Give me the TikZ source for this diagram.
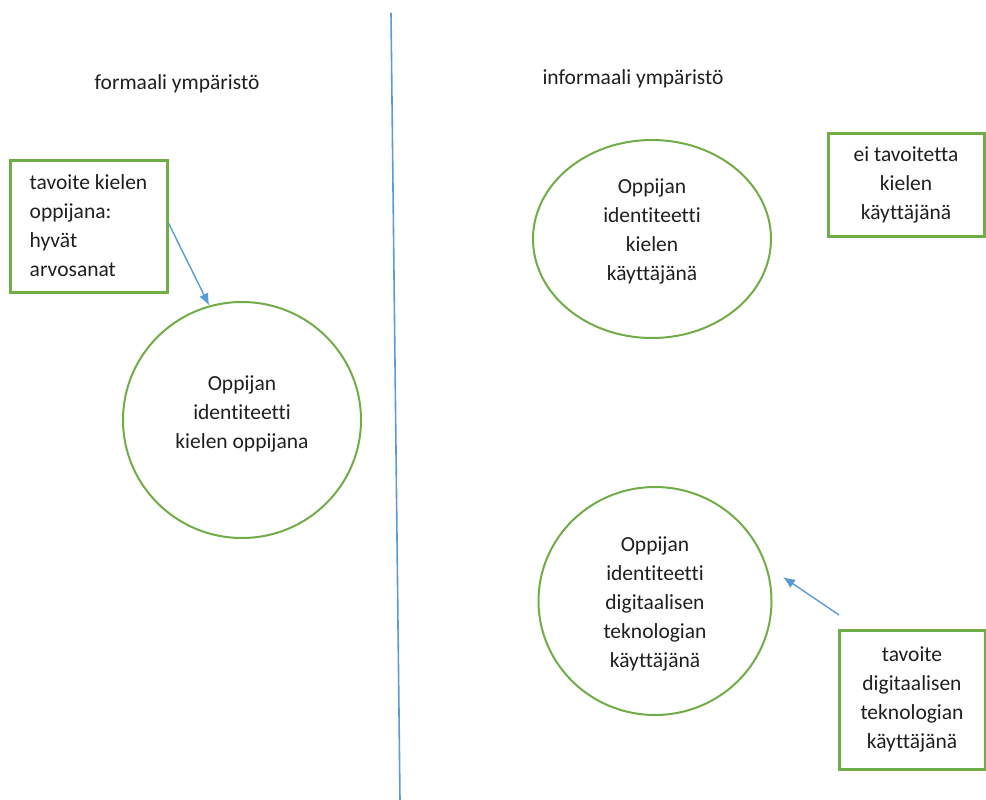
\documentclass[tikz,border=0pt]{standalone}
\usepackage{fontspec}
\setmainfont{Carlito}[RawFeature={-liga;-clig;-dlig}]
\usetikzlibrary{arrows.meta,shapes.geometric}
\definecolor{leaf}{HTML}{70AD47}
\definecolor{sky}{HTML}{5B9BD5}
\begin{document}
\begin{tikzpicture}[x=1pt,y=-1pt,
  every node/.style={font=\fontsize{21.5}{29}\selectfont, text=black!88},
  goalbox/.style={draw=leaf, line width=3pt, rectangle, inner sep=0pt},
  identity/.style={draw=leaf, line width=2pt, ellipse, inner sep=0pt},
  caption/.style={align=center, inner sep=0pt},
  link/.style={draw=sky, line width=1.4pt, -{Latex[length=12pt,width=10pt]}},
  title/.style={anchor=center}]
\useasboundingbox (0,0) rectangle (986,800);

% dividing line between the two environments
\coordinate (divtop) at (391,13);
\coordinate (divbot) at (400,800);
\draw[sky, line width=1.6pt] (divtop) -- (divbot);

% environment titles
\node[title] (formal) at (177,84) {formaali ympäristö};
\node[title] (informal) at (633,79) {informaali ympäristö};

% formal side
\node[goalbox, minimum width=157, minimum height=132, align=left] (goalgrades) at (88.5,226)
  {tavoite kielen\\oppijana:\\hyvät\\arvosanat};
\node[identity, minimum width=238, minimum height=236] (learner) at (242,420) {};
\node[caption] (learnertext) at (242,414) {Oppijan\\identiteetti\\kielen oppijana};

% informal side
\node[identity, minimum width=238, minimum height=198] (user) at (652,239) {};
\node[caption] (usertext) at (652,231) {Oppijan\\identiteetti\\kielen\\käyttäjänä};
\node[goalbox, minimum width=156, minimum height=103, align=center] (nogoal) at (906,184.5)
  {ei tavoitetta\\kielen\\käyttäjänä};
\node[identity, minimum width=233, minimum height=228] (digital) at (655,601) {};
\node[caption] (digitaltext) at (655,604) {Oppijan\\identiteetti\\digitaalisen\\teknologian\\käyttäjänä};
\node[goalbox, minimum width=146, minimum height=139, align=center] (goaldigital) at (912,699.5)
  {tavoite\\digitaalisen\\teknologian\\käyttäjänä};

% connectors
\draw[link] (goalgrades.east) ++(0,-3) -- (learner.106);
\coordinate (digstart) at (839,615);
\coordinate (digend) at (783,577);
\draw[link] (digstart) -- (digend);
\end{tikzpicture}
\end{document}
